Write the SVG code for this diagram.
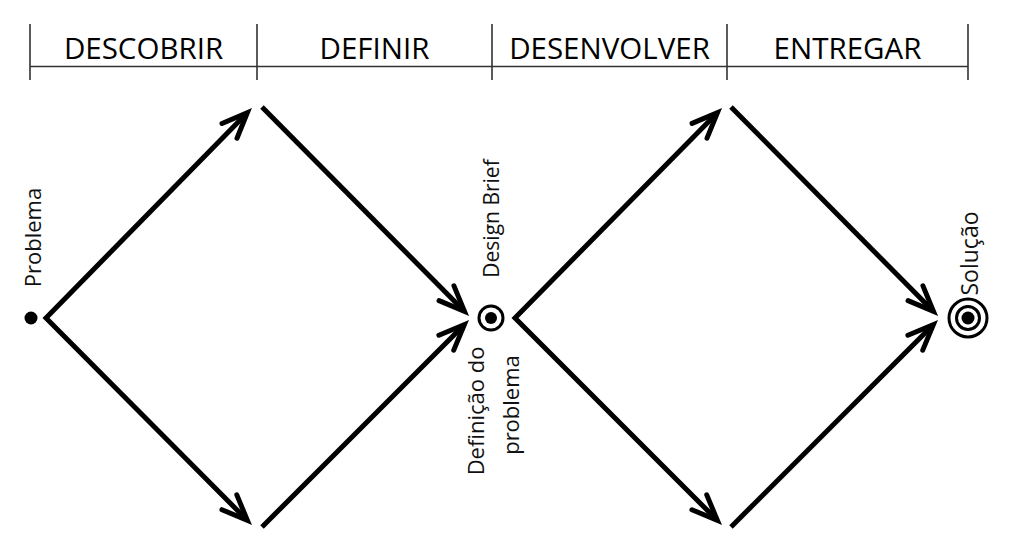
<svg xmlns="http://www.w3.org/2000/svg" width="1010" height="548" viewBox="0 0 1010 548">
<style>
.hl{stroke:#333;stroke-width:1.6;fill:none}
.ht{font-family:"Open Sans","Noto Sans",sans-serif;font-size:29.5px;fill:#000;text-anchor:middle}
.lb{font-family:"Open Sans","Noto Sans",sans-serif;font-size:22px;fill:#111;text-anchor:middle}
.ar{stroke:#000;stroke-width:5;fill:none;stroke-linejoin:miter;stroke-linecap:butt}
</style>
<defs>
<marker id="ah" markerUnits="userSpaceOnUse" viewBox="-40 -20 60 40" refX="0" refY="0" markerWidth="60" markerHeight="40" orient="auto-start-reverse" overflow="visible">
<path d="M-24,-10.5 L1.5,0 L-24,10.5" fill="none" stroke="#000" stroke-width="5" stroke-linecap="round" stroke-linejoin="miter"/>
</marker>
</defs>
<rect width="1010" height="548" fill="#fff"/>
<g id="header">
<line class="hl" x1="30" y1="66.5" x2="968" y2="66.5"/>
<line class="hl" x1="30" y1="24" x2="30" y2="80"/>
<line class="hl" x1="257" y1="24" x2="257" y2="80"/>
<line class="hl" x1="492" y1="24" x2="492" y2="80"/>
<line class="hl" x1="727" y1="24" x2="727" y2="80"/>
<line class="hl" x1="968" y1="24" x2="968" y2="80"/>
<text class="ht" x="143.5" y="59">DESCOBRIR</text>
<text class="ht" x="374.5" y="59">DEFINIR</text>
<text class="ht" x="609.5" y="59">DESENVOLVER</text>
<text class="ht" x="847.5" y="59">ENTREGAR</text>
</g>
<g id="connectors">
<path class="ar" d="M246.3,113.7 L46,318 L246.3,519.3" marker-start="url(#ah)" marker-end="url(#ah)"/>
<path class="ar" d="M262,107 L463.4,310.3" marker-end="url(#ah)"/>
<path class="ar" d="M262,527 L463.3,325.7" marker-end="url(#ah)"/>
<path class="ar" d="M716.4,113.7 L515,318 L716.3,519.3" marker-start="url(#ah)" marker-end="url(#ah)"/>
<path class="ar" d="M731,107 L932.4,310.3" marker-end="url(#ah)"/>
<path class="ar" d="M731,527 L932.3,325.7" marker-end="url(#ah)"/>
</g>
<g id="problema">
<circle cx="31" cy="318" r="6.5" fill="#000"/>
<text class="lb" transform="translate(41,237.5) rotate(-90)">Problema</text>
</g>
<g id="design-brief">
<circle cx="491" cy="318" r="12" fill="none" stroke="#000" stroke-width="3"/>
<circle cx="491" cy="318" r="6" fill="#000"/>
<text class="lb" style="font-size:21px" transform="translate(499,218.5) rotate(-90)">Design Brief</text>
<text class="lb" transform="translate(484,411) rotate(-90)">Definição do</text>
<text class="lb" transform="translate(519,405) rotate(-90)">problema</text>
</g>
<g id="solucao">
<circle cx="968" cy="318" r="19" fill="none" stroke="#000" stroke-width="3"/>
<circle cx="968" cy="318" r="11.5" fill="none" stroke="#000" stroke-width="3"/>
<circle cx="968" cy="318" r="6.5" fill="#000"/>
<text class="lb" style="font-size:23px" transform="translate(978,253.5) rotate(-90)">Solução</text>
</g>
</svg>
